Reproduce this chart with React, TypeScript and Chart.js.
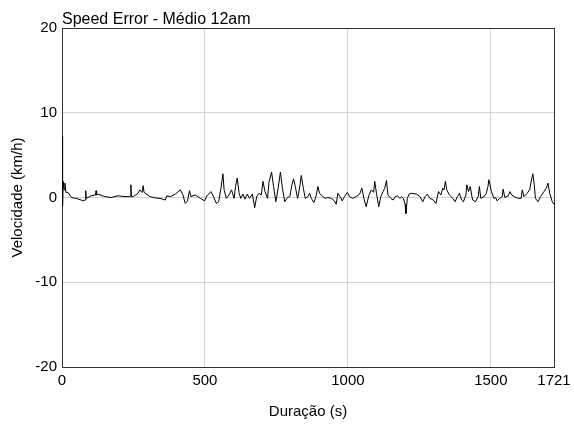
import React, { useEffect, useRef } from "react";
import { Chart, registerables } from "chart.js";

Chart.register(...registerables);

const chartTitle = "Speed Error - Médio 12am";
const xAxisTitle = "Duração (s)";
const yAxisTitle = "Velocidade (km/h)";
const xTickValues = [0, 500, 1000, 1500, 1721];
const yMin = -20;
const yMax = 20;

const timeSec = [
  0, 1, 3, 4, 7, 10, 14, 21, 33, 49, 67, 74, 81, 83, 85, 91, 102, 117, 119, 121,
  126, 150, 172, 196, 220, 237, 239, 241, 243, 249, 266, 272, 280, 284, 287, 308, 326, 343, 361, 367,
  379, 396, 414, 423, 431, 439, 446, 451, 466, 484, 499, 507, 521, 530, 540, 548, 556, 563, 567, 575,
  584, 593, 602, 607, 613, 619, 625, 633, 640, 648, 656, 666, 674, 681, 689, 697, 703, 710, 719, 724,
  733, 740, 748, 756, 764, 771, 779, 789, 797, 804, 810, 816, 824, 830, 837, 844, 851, 860, 866, 872,
  881, 889, 895, 901, 912, 921, 930, 942, 953, 959, 965, 973, 980, 988, 998, 1006, 1017, 1029, 1041, 1049,
  1056, 1064, 1073, 1082, 1090, 1094, 1100, 1108, 1115, 1123, 1129, 1135, 1140, 1150, 1159, 1165, 1173, 1182, 1188, 1194,
  1200, 1203, 1208, 1214, 1223, 1241, 1252, 1262, 1270, 1278, 1287, 1299, 1308, 1317, 1325, 1332, 1336, 1341, 1346, 1355,
  1367, 1375, 1383, 1390, 1398, 1404, 1413, 1416, 1422, 1428, 1434, 1437, 1446, 1456, 1460, 1465, 1476, 1484, 1490, 1493,
  1497, 1502, 1511, 1517, 1522, 1531, 1540, 1543, 1549, 1561, 1567, 1573, 1587, 1598, 1606, 1610, 1616, 1627, 1636, 1641,
  1647, 1652, 1656, 1665, 1674, 1686, 1694, 1700, 1706, 1715, 1721,
];

const speedError = [
  -0.8, 7.2, -1.0, 1.9, 0.9, 1.7, 0.6, 0.6, 0.0, -0.1, -0.3, -0.4, -0.3, 0.8, -0.1, 0.0, 0.2, 0.3, 0.8, 0.3,
  0.4, 0.1, 0.0, 0.2, 0.1, 0.1, 0.1, 1.5, 0.1, 0.1, 0.5, 0.9, 0.6, 1.4, 0.6, 0.1, -0.05, -0.1, -0.3, 0.2,
  0.1, 0.4, 0.9, 0.3, -0.7, -0.4, 0.8, 0.1, 0.3, -0.1, -0.4, 0.2, 0.7, 0.1, -0.7, -0.5, 1.1, 2.8, 0.9, -0.1,
  0.3, 0.9, -0.1, 1.3, 2.3, 0.6, -0.1, 0.4, -0.2, 0.4, -0.1, 0.4, -1.2, 0.1, 0.5, 0.3, 1.9, 0.7, -0.1, 1.8,
  3.0, 1.3, -0.5, 1.1, 3.0, 1.1, -0.5, 0.0, 0.1, 1.5, 2.2, 1.3, -0.1, 0.9, 2.6, 1.1, -0.1, 0.1, 0.5, -0.1,
  -0.6, 0.2, 1.3, 0.5, 0.1, -0.1, 0.0, -0.1, -0.4, -0.8, 0.5, 0.1, -0.4, 0.1, 0.6, 0.1, -0.1, 0.1, 0.4, 1.1,
  -0.1, -1.1, 0.2, 0.9, 0.6, 1.9, 0.5, -1.1, 0.1, 0.7, 1.1, 2.0, 0.3, -0.1, -0.3, 0.1, 0.2, -0.1, 0.1, -0.1,
  -0.8, -1.9, -0.1, 0.4, 0.5, 0.4, 0.1, -0.5, 0.1, 0.4, -0.1, -0.3, -0.7, 0.7, 0.3, 1.1, 0.9, 1.9, 0.9, 0.3,
  -0.1, -0.5, 0.1, 0.5, -0.3, -0.5, 0.3, 1.5, 0.7, 1.3, 0.1, -0.3, -0.5, 0.1, 1.3, -0.1, 0.1, 0.5, 1.3, 2.1,
  1.5, 0.7, -0.1, 0.0, -0.4, -0.1, 0.1, 1.0, 0.0, 0.2, 0.7, 0.3, 0.0, -0.1, -0.1, 0.9, 0.1, 0.5, 0.9, 1.9,
  2.8, 1.5, -0.1, -0.5, 0.1, 0.7, 1.1, 1.7, 0.5, -0.5, -0.8,
];

const FONT = "'Liberation Sans', Arial, Helvetica, sans-serif";

export default function App() {
  const canvasRef = useRef<HTMLCanvasElement | null>(null);

  useEffect(() => {
    document.body.style.margin = "0";
    const canvas = canvasRef.current;
    if (!canvas) return;

    const points = timeSec.map((t, i) => ({ x: t, y: speedError[i] }));

    const titlePlugin = {
      id: "cornerTitle",
      afterDraw(chart: any) {
        const ctx = chart.ctx;
        ctx.save();
        ctx.font = `16px ${FONT}`;
        ctx.fillStyle = "#000";
        ctx.textAlign = "left";
        ctx.textBaseline = "alphabetic";
        ctx.fillText(chartTitle, chart.chartArea.left, chart.chartArea.top - 4);
        ctx.restore();
      },
    };

    const chart = new Chart(canvas, {
      type: "line",
      data: {
        datasets: [
          {
            data: points,
            borderColor: "#000",
            borderWidth: 1,
            pointRadius: 0,
            tension: 0,
            fill: false,
          },
        ],
      },
      options: {
        animation: false,
        responsive: false,
        maintainAspectRatio: false,
        layout: { padding: { top: 28, right: 20, left: 0, bottom: 0 } },
        plugins: {
          legend: { display: false },
          tooltip: { enabled: false },
          title: { display: false },
        },
        scales: {
          x: {
            type: "linear",
            min: 0,
            max: 1721,
            afterBuildTicks: (scale: any) => {
              scale.ticks = xTickValues.map((v) => ({ value: v }));
            },
            afterFit: (scale: any) => {
              scale.height = 57;
              scale.paddingLeft = 0;
              scale.paddingRight = 0;
            },
            ticks: {
              color: "#000",
              font: { family: FONT, size: 15 },
              padding: 5,
              maxRotation: 0,
              autoSkip: false,
              callback: (v: any) => String(v),
            },
            grid: { color: "#d4d4d4", drawTicks: false, lineWidth: 1 },
            border: { display: true, color: "#333", width: 1 },
            title: {
              display: true,
              text: xAxisTitle,
              color: "#000",
              font: { family: FONT, size: 15 },
              padding: { top: 3, bottom: 3 },
            },
          },
          y: {
            type: "linear",
            min: yMin,
            max: yMax,
            afterFit: (scale: any) => {
              scale.width = 62;
              scale.paddingTop = 0;
              scale.paddingBottom = 0;
            },
            ticks: {
              stepSize: 10,
              color: "#000",
              font: { family: FONT, size: 15 },
              padding: 5,
            },
            grid: { color: "#d4d4d4", drawTicks: false, lineWidth: 1 },
            border: { display: true, color: "#333", width: 1 },
            title: {
              display: true,
              text: yAxisTitle,
              color: "#000",
              font: { family: FONT, size: 15 },
              padding: { top: 9, bottom: 9 },
            },
          },
          x2: {
            type: "linear",
            position: "top",
            display: true,
            min: 0,
            max: 1721,
            ticks: { display: false },
            grid: { display: false, drawTicks: false },
            border: { display: true, color: "#333", width: 1 },
            afterFit: (scale: any) => {
              scale.height = 0;
              scale.paddingLeft = 0;
              scale.paddingRight = 0;
            },
          },
          y2: {
            type: "linear",
            position: "right",
            display: true,
            min: yMin,
            max: yMax,
            ticks: { display: false },
            grid: { display: false, drawTicks: false },
            border: { display: true, color: "#333", width: 1 },
            afterFit: (scale: any) => {
              scale.width = 0;
              scale.paddingTop = 0;
              scale.paddingBottom = 0;
            },
          },
        },
      } as any,
      plugins: [titlePlugin],
    });

    return () => chart.destroy();
  }, []);

  return (
    <div style={{ width: 574, height: 424, background: "#fff" }}>
      <canvas ref={canvasRef} width={574} height={424} style={{ display: "block" }} />
    </div>
  );
}
